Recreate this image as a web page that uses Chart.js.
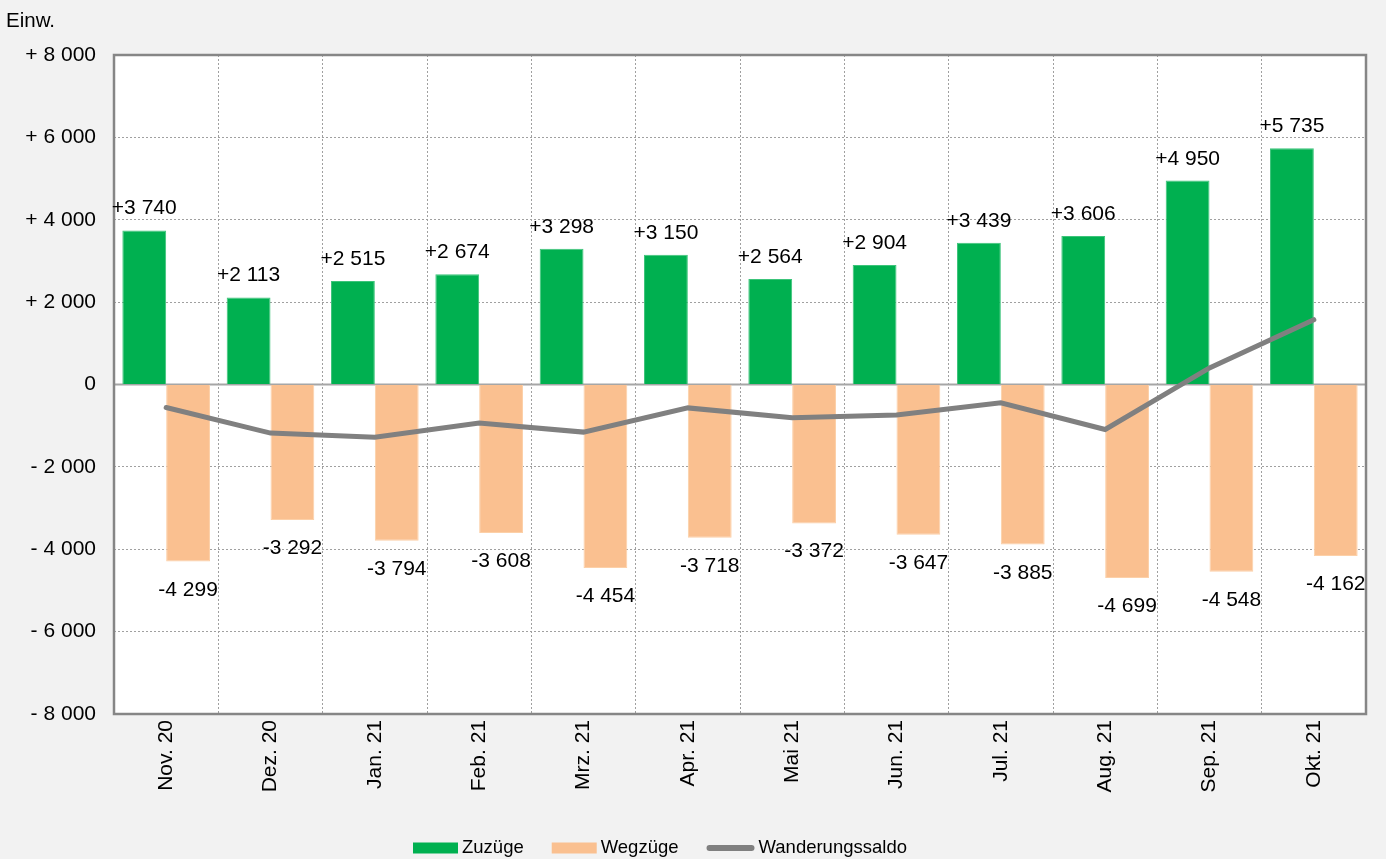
<!DOCTYPE html>
<html><head><meta charset="utf-8">
<script src="https://cdn.jsdelivr.net/npm/chart.js@4"></script>
<style>html,body{margin:0;padding:0;background:#f2f2f2;} #wrap{width:1386px;height:859px;}</style>
</head><body><div id="wrap"><canvas id="c" width="1386" height="859"></canvas></div>
<script>
const categories = ["Nov. 20","Dez. 20","Jan. 21","Feb. 21","Mrz. 21","Apr. 21","Mai 21","Jun. 21","Jul. 21","Aug. 21","Sep. 21","Okt. 21"];
const zuzuege = [3740,2113,2515,2674,3298,3150,2564,2904,3439,3606,4950,5735];
const wegzuege = [-4299,-3292,-3794,-3608,-4454,-3718,-3372,-3647,-3885,-4699,-4548,-4162];
const saldo = [-559,-1179,-1279,-934,-1156,-568,-808,-743,-446,-1093,402,1573];
const seriesNames = ["Zuzüge","Wegzüge","Wanderungssaldo"];
const yMin = -8000, yMax = 8000, yStep = 2000;
const unitLabel = "Einw.";

const FONT = '"Liberation Sans", Arial, sans-serif';
const GREEN = '#00b050', PEACH = '#fac090', GREY = '#808080';
function fmtNum(v){ return Math.abs(v).toString().replace(/\B(?=(\d{3})+(?!\d))/g,' '); }
function fmtTick(v){ if(v===0) return '0'; return (v>0?'+ ':'- ')+fmtNum(v); }
function fmtLabel(v){ return (v>0?'+':'-')+fmtNum(v); }

const plotPlugin = {
  id:'plot',
  beforeDraw(chart){
    const {ctx, chartArea:a} = chart;
    ctx.save();
    ctx.fillStyle='#f2f2f2'; ctx.fillRect(0,0,chart.width,chart.height);
    ctx.fillStyle='#ffffff'; ctx.fillRect(a.left,a.top,a.width,a.height);
    ctx.restore();
  },
  beforeDatasetsDraw(chart){
    const {ctx, chartArea:a} = chart;
    const y0 = chart.scales.y.getPixelForValue(0);
    ctx.save();
    ctx.strokeStyle='#a6a6a6'; ctx.lineWidth=2;
    ctx.beginPath(); ctx.moveTo(a.left,y0); ctx.lineTo(a.right,y0); ctx.stroke();
    ctx.restore();
  },
  afterDatasetsDraw(chart){
    const {ctx, chartArea:a} = chart;
    ctx.save();
    ctx.strokeStyle='#868686'; ctx.lineWidth=2.5;
    ctx.strokeRect(a.left,a.top,a.width,a.height);
    ctx.fillStyle='#000'; ctx.font='21px '+FONT; ctx.textAlign='center'; ctx.textBaseline='alphabetic';
    chart.data.datasets.forEach((ds,di)=>{
      if(ds.type==='line') return;
      const meta = chart.getDatasetMeta(di);
      meta.data.forEach((bar,i)=>{
        const v = ds.data[i];
        const y = v>=0 ? bar.y-16 : bar.y+34;
        ctx.fillText(fmtLabel(v), bar.x, y);
      });
    });
    ctx.restore();
  },
  afterDraw(chart){
    const {ctx} = chart;
    ctx.save();
    ctx.fillStyle='#000'; ctx.font='20.5px '+FONT; ctx.textAlign='left'; ctx.textBaseline='middle';
    ctx.fillText(unitLabel, 6, 21);
    ctx.font='18.5px '+FONT;
    let x = 413; const cy = 848;
    chart.data.datasets.forEach(ds=>{
      if(ds.type==='line'){
        ctx.strokeStyle=ds.borderColor; ctx.lineWidth=6; ctx.lineCap='round';
        ctx.beginPath(); ctx.moveTo(x+3,cy); ctx.lineTo(x+45,cy); ctx.stroke();
        x += 48;
      } else {
        ctx.fillStyle=ds.backgroundColor; ctx.fillRect(x,cy-5.5,45,11);
        x += 45;
      }
      x += 4;
      ctx.fillStyle='#000';
      ctx.fillText(ds.label, x, cy);
      x += ctx.measureText(ds.label).width + 28;
    });
    ctx.restore();
  }
};

new Chart(document.getElementById('c'), {
  type:'bar',
  data:{
    labels: categories,
    datasets:[
      {label:seriesNames[0], data:zuzuege, backgroundColor:GREEN, borderColor:'#3cc47a', borderWidth:1, order:1, categoryPercentage:0.84, barPercentage:1.0},
      {label:seriesNames[1], data:wegzuege, backgroundColor:PEACH, borderColor:'#fcd0a8', borderWidth:1, order:1, categoryPercentage:0.84, barPercentage:1.0},
      {type:'line', label:seriesNames[2], data:saldo, borderColor:GREY, backgroundColor:GREY, borderWidth:5, pointRadius:0, tension:0, borderCapStyle:'round', order:0}
    ]
  },
  options:{
    responsive:false, animation:false,
    layout:{padding:{top:55,right:20,bottom:45,left:0}},
    plugins:{legend:{display:false}, tooltip:{enabled:false}},
    scales:{
      x:{
        offset:true,
        grid:{offset:true, color:'#a0a0a0', lineWidth:1, drawTicks:false},
        border:{display:false, dash:[2,2]},
        ticks:{autoSkip:false, minRotation:90, maxRotation:90, padding:6, color:'#000', font:{family:FONT,size:21}},
        afterFit(s){ s.height = 100; }
      },
      y:{
        min:yMin, max:yMax,
        grid:{color:c=> (c.tick && c.tick.value===0) ? 'rgba(0,0,0,0)' : '#a0a0a0', lineWidth:1, drawTicks:false},
        border:{display:false, dash:[2,2]},
        ticks:{stepSize:yStep, padding:18, color:'#000', font:{family:FONT,size:21}, callback:v=>fmtTick(v)},
        afterFit(s){ s.width = 114; }
      }
    }
  },
  plugins:[plotPlugin]
});
</script>
</body></html>
